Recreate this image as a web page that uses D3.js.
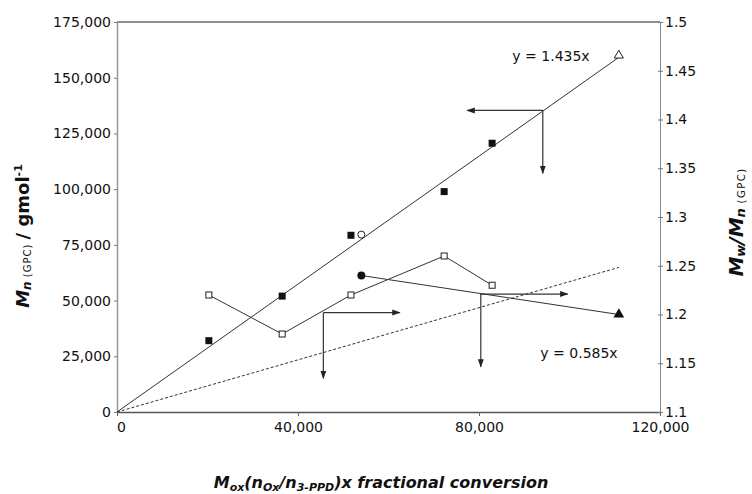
<!DOCTYPE html>
<html>
<head>
<meta charset="utf-8">
<script src="https://cdn.jsdelivr.net/npm/d3@7"></script>
<style>
  body { margin: 0; background: #fff; }
  svg { font-family: "DejaVu Sans", Arial, sans-serif; }
  .tick text { font-size: 14px; fill: #111; font-family: "DejaVu Sans", sans-serif; }
</style>
</head>
<body>
<script>
var width = 752,
  height = 494;

var margin = { top: 22, right: 92, bottom: 82, left: 117 };

// samples: x = M_ox(n_Ox/n_3-PPD) x fractional conversion
var sampleX = [20300, 36500, 51700, 54000, 72300, 82900, 110900];
var sampleMn = [32000, 52000, 79300, 79600, 98900, 120600, 160000];
var samplePDI = [1.22, 1.18, 1.22, 1.24, 1.26, 1.23, 1.20];
// marker per sample for Mn and for PDI
var mnMarker = ["fsq", "fsq", "fsq", "ocirc", "fsq", "fsq", "otri"];
var pdiMarker = ["osq", "osq", "osq", "fcirc", "osq", "osq", "ftri"];
// which samples are joined in the PDI plot
var pdiSetA = [0, 1, 2, 4, 5];
var pdiSetB = [3, 6];

var fitSlopes = [1.435, 0.585];
var fitLabels = ["y = 1.435x", "y = 0.585x"];
var fitEnd = 110900;

var xTicks = [0, 40000, 80000, 120000];
var yTicks = [0, 25000, 50000, 75000, 100000, 125000, 150000, 175000];
var y2Ticks = [1.1, 1.15, 1.2, 1.25, 1.3, 1.35, 1.4, 1.45, 1.5];

// arrows: start point (x, value on axis), horizontal end x, vertical end (Mn value)
var arrowX = [45600, 80400, 94100];
var arrowVal = [1.202, 1.221, 135300];
var arrowAxis = ["pdi", "pdi", "mn"];
var arrowHEnd = [62500, 99600, 77400];
var arrowVEnd = [15100, 20300, 107100];

var svg = d3.select("body").append("svg")
  .attr("width", width)
  .attr("height", height);

var x = d3.scaleLinear().domain([0, 120000]).range([margin.left, width - margin.right]);
var y = d3.scaleLinear().domain([0, 175000]).range([height - margin.bottom, margin.top]);
var y2 = d3.scaleLinear().domain([1.1, 1.5]).range([height - margin.bottom, margin.top]);

var defs = svg.append("defs");
defs.append("marker")
  .attr("id", "head")
  .attr("viewBox", "0 0 10 10")
  .attr("refX", 9).attr("refY", 5)
  .attr("markerWidth", 7).attr("markerHeight", 7)
  .attr("orient", "auto")
  .append("path")
  .attr("d", "M0,1.5L10,5L0,8.5Z")
  .attr("fill", "#222");

// frame top
svg.append("line")
  .attr("x1", x(0)).attr("x2", x(120000))
  .attr("y1", y(175000)).attr("y2", y(175000))
  .attr("stroke", "#222");

// axes
var xAxis = svg.append("g")
  .attr("transform", "translate(0," + y(0) + ")")
  .call(d3.axisBottom(x).tickValues(xTicks).tickFormat(d3.format(","))
    .tickSizeInner(4).tickSizeOuter(0).tickPadding(6));
xAxis.select(".domain").attr("stroke", "#555").attr("stroke-width", 1.5);
xAxis.selectAll(".tick line").attr("stroke", "#666");
xAxis.selectAll(".tick").filter(d => d === 0).select("text").attr("dx", 4);

var yAxis = svg.append("g")
  .attr("transform", "translate(" + x(0) + ",0)")
  .call(d3.axisLeft(y).tickValues(yTicks).tickFormat(d3.format(","))
    .tickSizeInner(3).tickSizeOuter(0).tickPadding(3));
yAxis.select(".domain").attr("stroke", "#999").attr("stroke-width", 1.5);
yAxis.selectAll(".tick line").attr("stroke", "#777");

var y2Axis = svg.append("g")
  .attr("transform", "translate(" + x(120000) + ",0)")
  .call(d3.axisRight(y2).tickValues(y2Ticks).tickFormat(d => +d.toFixed(2))
    .tickSizeInner(3).tickSizeOuter(0).tickPadding(2));
y2Axis.select(".domain").attr("stroke", "#888");
y2Axis.selectAll(".tick line").attr("stroke", "#777").attr("x1", -2);

// fit lines
var fitG = svg.append("g");
fitSlopes.forEach((k, i) => {
  fitG.append("line")
    .attr("x1", x(0)).attr("y1", y(0))
    .attr("x2", x(fitEnd)).attr("y2", y(k * fitEnd))
    .attr("stroke", "#333")
    .attr("stroke-width", 1)
    .attr("stroke-dasharray", i === 1 ? "3,2" : null);
});

fitG.append("text")
  .attr("x", 551).attr("y", 61)
  .attr("text-anchor", "middle")
  .attr("font-size", 14)
  .attr("fill", "#111")
  .text(fitLabels[0]);
fitG.append("text")
  .attr("x", 579).attr("y", 358)
  .attr("text-anchor", "middle")
  .attr("font-size", 14)
  .attr("fill", "#111")
  .text(fitLabels[1]);

// PDI connecting lines
var pdiLine = d3.line().x(i => x(sampleX[i])).y(i => y2(samplePDI[i]));
[pdiSetA, pdiSetB].forEach(set => {
  svg.append("path")
    .attr("d", pdiLine(set))
    .attr("fill", "none")
    .attr("stroke", "#333")
    .attr("stroke-width", 1);
});

// arrows
arrowX.forEach((ax, i) => {
  var sx = x(ax);
  var sy = arrowAxis[i] === "pdi" ? y2(arrowVal[i]) : y(arrowVal[i]);
  svg.append("line")
    .attr("x1", sx).attr("y1", sy)
    .attr("x2", x(arrowHEnd[i])).attr("y2", sy)
    .attr("stroke", "#333").attr("stroke-width", 1.2)
    .attr("marker-end", "url(#head)");
  svg.append("line")
    .attr("x1", sx).attr("y1", sy)
    .attr("x2", sx).attr("y2", y(arrowVEnd[i]))
    .attr("stroke", "#333").attr("stroke-width", 1.2)
    .attr("marker-end", "url(#head)");
});

// markers
function drawMarker(g, type, cx, cy) {
  if (type === "fsq") {
    g.append("rect").attr("x", cx - 3.5).attr("y", cy - 3.5).attr("width", 7).attr("height", 7).attr("fill", "#111");
  } else if (type === "osq") {
    g.append("rect").attr("x", cx - 3).attr("y", cy - 3).attr("width", 6).attr("height", 6)
      .attr("fill", "#fff").attr("stroke", "#222").attr("stroke-width", 1);
  } else if (type === "ocirc") {
    g.append("circle").attr("cx", cx).attr("cy", cy).attr("r", 3.5)
      .attr("fill", "#fff").attr("stroke", "#222").attr("stroke-width", 1);
  } else if (type === "fcirc") {
    g.append("circle").attr("cx", cx).attr("cy", cy).attr("r", 4).attr("fill", "#111");
  } else if (type === "otri") {
    g.append("path").attr("d", d3.symbol(d3.symbolTriangle, 36)())
      .attr("transform", "translate(" + cx + "," + cy + ")")
      .attr("fill", "#fff").attr("stroke", "#222").attr("stroke-width", 1);
  } else if (type === "ftri") {
    g.append("path").attr("d", d3.symbol(d3.symbolTriangle, 50)())
      .attr("transform", "translate(" + cx + "," + cy + ")")
      .attr("fill", "#111");
  }
}

var markG = svg.append("g");
sampleX.forEach((sx, i) => {
  drawMarker(markG, mnMarker[i], x(sx), y(sampleMn[i]));
  drawMarker(markG, pdiMarker[i], x(sx), y2(samplePDI[i]));
});

// axis titles
var t1 = svg.append("text")
  .attr("transform", "translate(29,236) rotate(-90)")
  .attr("text-anchor", "middle")
  .attr("fill", "#111")
  .attr("font-weight", "bold");
t1.append("tspan").attr("font-size", 18).attr("font-style", "italic").text("M");
t1.append("tspan").attr("font-size", 12).attr("font-style", "italic").attr("dy", 2).text("n");
t1.append("tspan").attr("font-size", 10).attr("font-weight", "normal").attr("letter-spacing", 1).text("  (GPC) ");
t1.append("tspan").attr("font-size", 18).attr("dy", -2).text(" / gmol");
t1.append("tspan").attr("font-size", 11).attr("dy", -7).text("-1");

var t2 = svg.append("text")
  .attr("transform", "translate(743,222) rotate(-90)")
  .attr("text-anchor", "middle")
  .attr("fill", "#111")
  .attr("font-weight", "bold");
t2.append("tspan").attr("font-size", 20).attr("font-style", "italic").text("M");
t2.append("tspan").attr("font-size", 13).attr("font-style", "italic").attr("dy", 2).text("w");
t2.append("tspan").attr("font-size", 20).attr("font-style", "italic").attr("dy", -2).text("/M");
t2.append("tspan").attr("font-size", 13).attr("font-style", "italic").attr("dy", 2).text("n");
t2.append("tspan").attr("font-size", 10).attr("font-weight", "normal").attr("letter-spacing", 1.5).text("  (GPC)");

var t3 = svg.append("text")
  .attr("x", 381).attr("y", 488)
  .attr("text-anchor", "middle")
  .attr("fill", "#111")
  .attr("font-weight", "bold")
  .attr("font-style", "italic")
  .attr("font-size", 16);
t3.append("tspan").text("M");
t3.append("tspan").attr("font-size", 11).attr("dy", 3).text("ox");
t3.append("tspan").attr("dy", -3).text("(n");
t3.append("tspan").attr("font-size", 11).attr("dy", 3).text("Ox");
t3.append("tspan").attr("dy", -3).text("/n");
t3.append("tspan").attr("font-size", 11).attr("dy", 3).text("3-PPD");
t3.append("tspan").attr("dy", -3).text(")x fractional conversion");
</script>
</body>
</html>
